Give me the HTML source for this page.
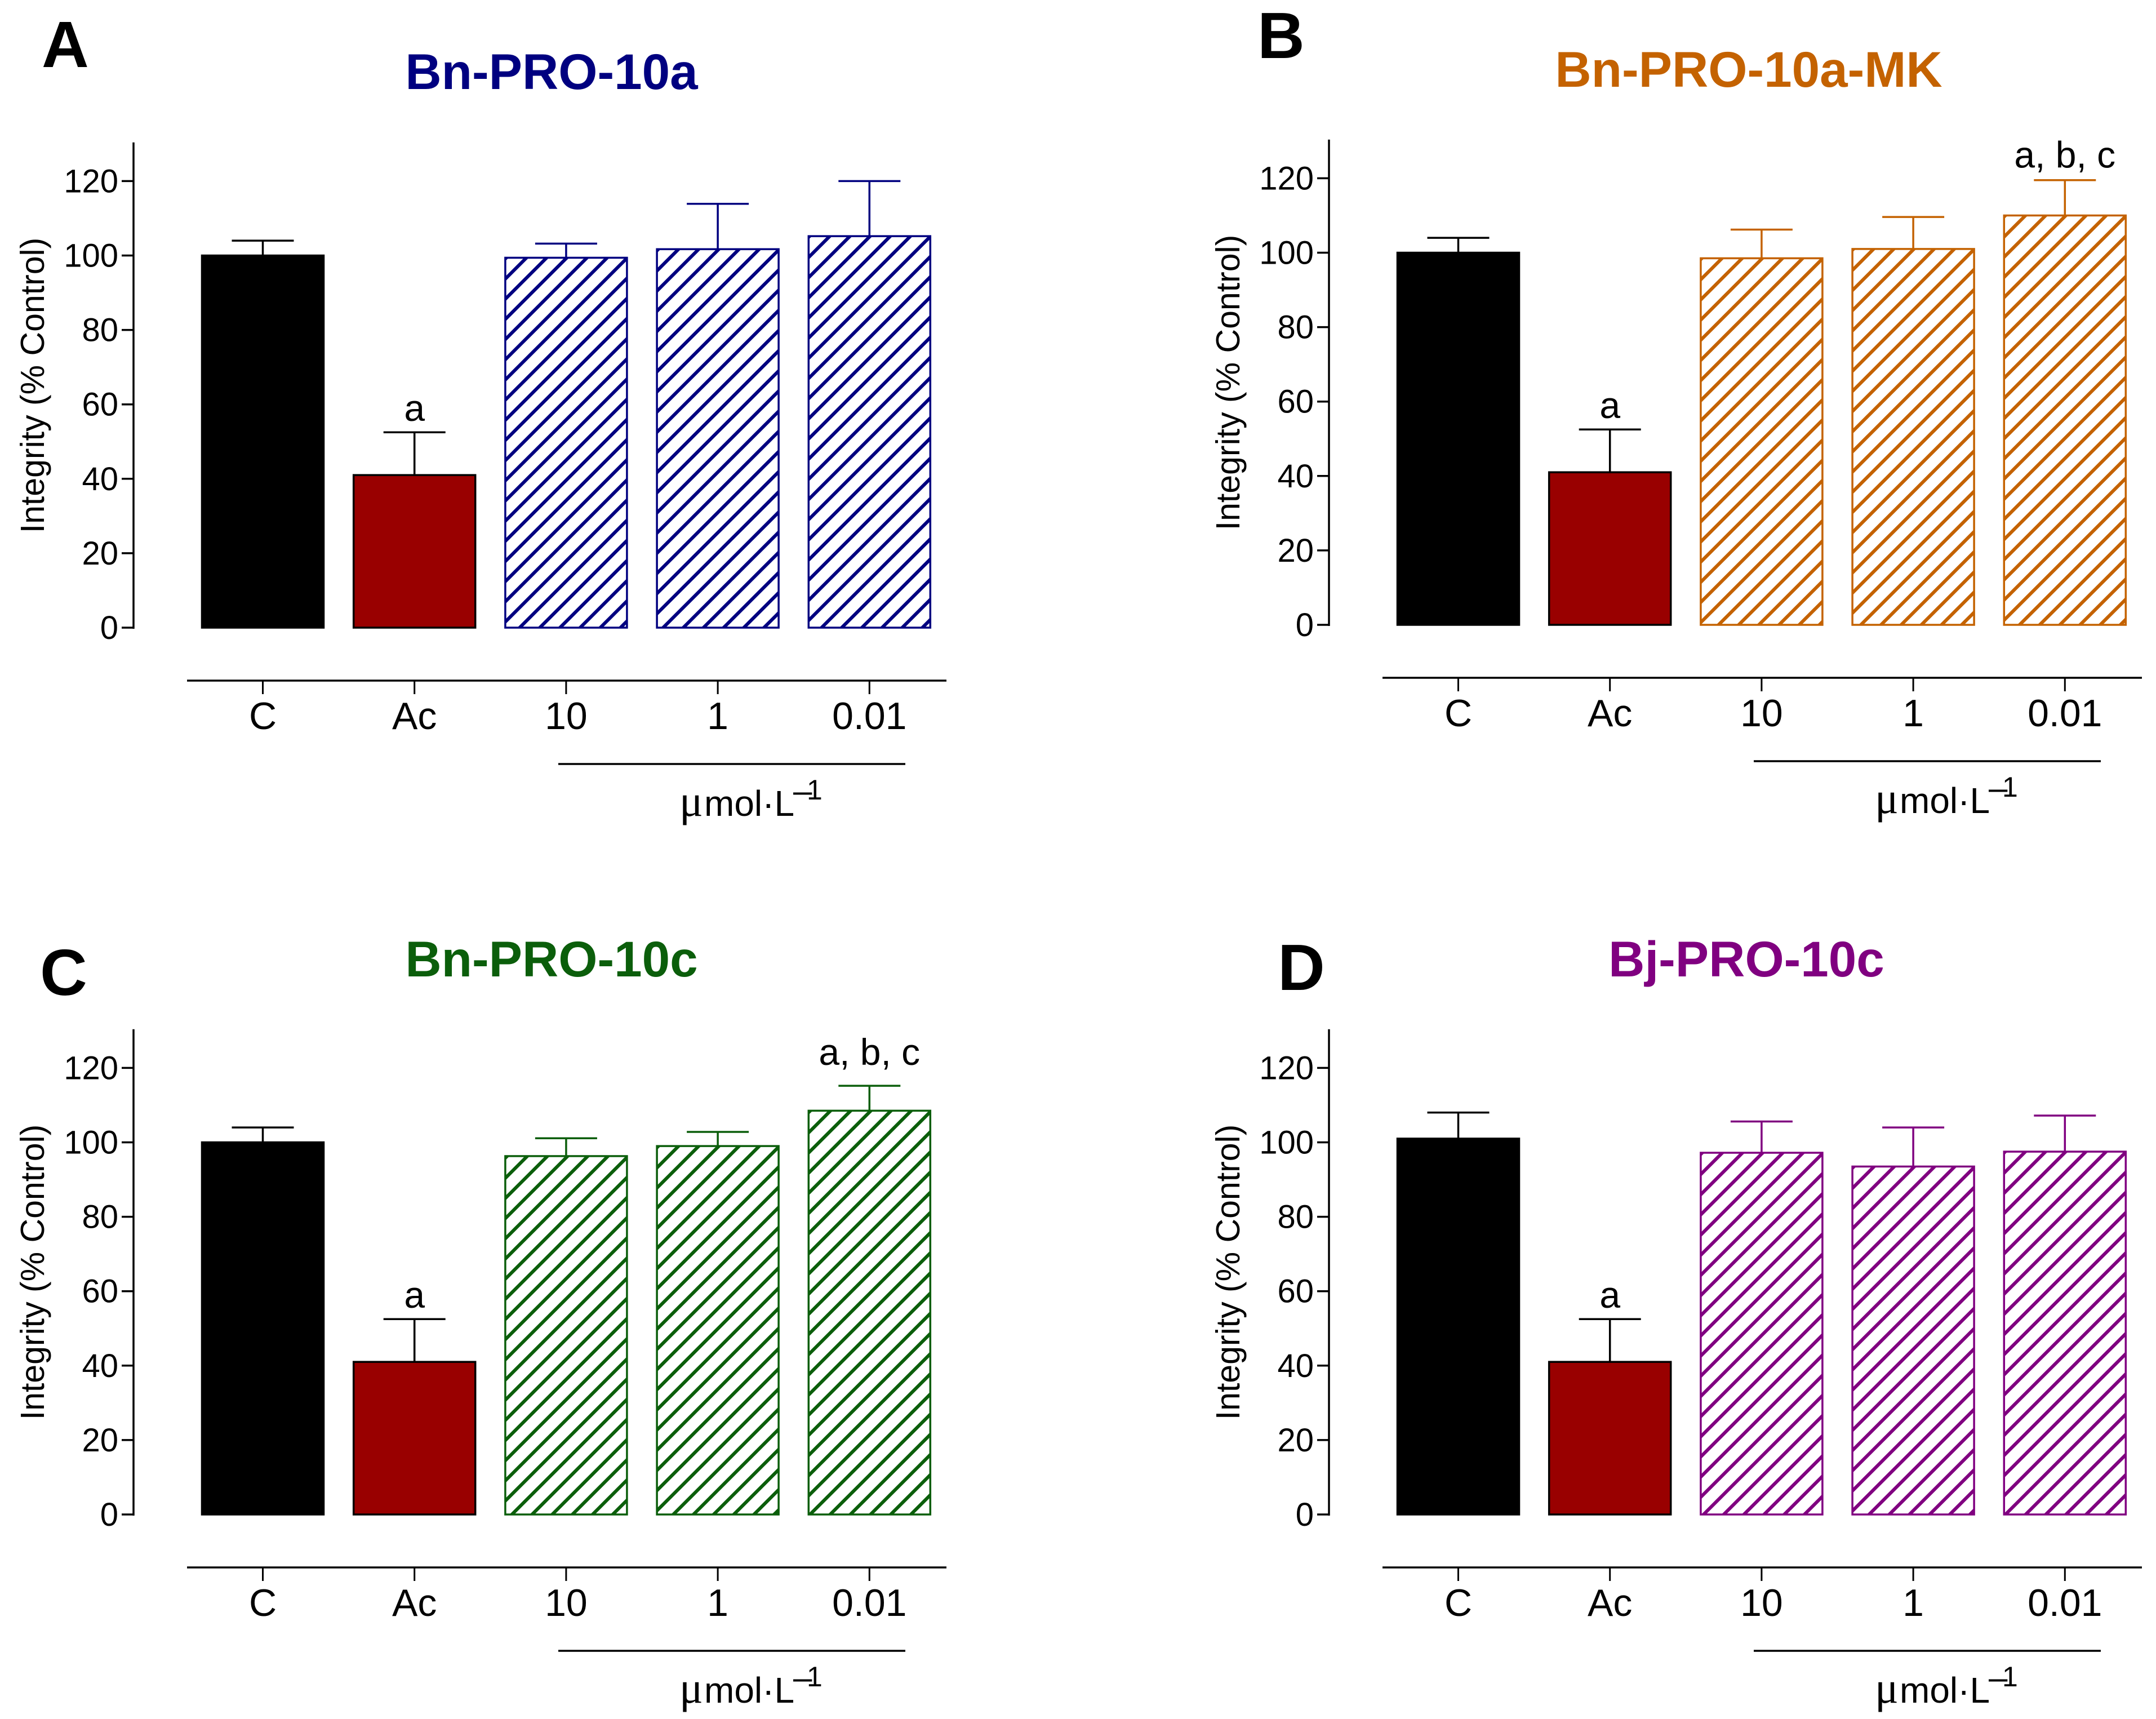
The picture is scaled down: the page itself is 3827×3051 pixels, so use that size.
<!DOCTYPE html>
<html lang="en">
<head>
<meta charset="utf-8">
<title>Integrity bar charts</title>
<style>
html,body{margin:0;padding:0;background:#fff;}
svg{display:block;font-family:"Liberation Sans",sans-serif;}
</style>
</head>
<body>
<svg id="figure" xmlns="http://www.w3.org/2000/svg" width="3827" height="3051" viewBox="0 0 3827 3051">
<rect width="3827" height="3051" fill="#ffffff"/>
<defs id="defs"></defs>
<text x="74" y="119" font-size="116" font-weight="700">A</text>
<text x="2232" y="103" font-size="116" font-weight="700">B</text>
<text x="71" y="1766" font-size="116" font-weight="700">C</text>
<text x="2268" y="1757" font-size="116" font-weight="700">D</text>
<text x="979" y="158" font-size="89" font-weight="700" text-anchor="middle" fill="#000080">Bn-PRO-10a</text>
<text x="3104" y="154" font-size="89" font-weight="700" text-anchor="middle" fill="#c46200">Bn-PRO-10a-MK</text>
<text x="979" y="1733" font-size="89" font-weight="700" text-anchor="middle" fill="#0b5e0b">Bn-PRO-10c</text>
<text x="3100" y="1733" font-size="89" font-weight="700" text-anchor="middle" fill="#800080">Bj-PRO-10c</text>
<g id="panel-a" transform="translate(0,0)"></g>
<g id="panel-b" transform="translate(2122,-5)"></g>
<g id="panel-c" transform="translate(0,1574)"></g>
<g id="panel-d" transform="translate(2122,1574)"></g>
</svg>
<script>
const categories = ['C', 'Ac', '10', '1', '0.01'];
const yTickLabels = [0, 20, 40, 60, 80, 100, 120];
const yAxisTitle = 'Integrity (% Control)';

const meansA = [100, 41, 99.4, 101.7, 105.2];
const errorsA = [4, 11.5, 3.8, 12.2, 14.8];
const notesA = ['', 'a', '', '', ''];

const meansB = [100, 41, 98.5, 101, 110];
const errorsB = [4, 11.5, 7.7, 8.6, 9.5];
const notesB = ['', 'a', '', '', 'a, b, c'];

const meansC = [100, 41, 96.3, 99, 108.5];
const errorsC = [4, 11.5, 4.8, 3.8, 6.7];
const notesC = ['', 'a', '', '', 'a, b, c'];

const meansD = [101, 41, 97.2, 93.5, 97.5];
const errorsD = [7, 11.5, 8.4, 10.5, 9.7];
const notesD = ['', 'a', '', '', ''];

const NS = 'http://www.w3.org/2000/svg';
const defs = document.getElementById('defs');
const yScale = v => 1114 - v * 6.605;
const xCenter = i => 466.5 + i * 269.2;
const BAR_HALF = 108;
const CAP_HALF = 55;
const HATCH_PERIOD = 35.8;
const AXIS_TOP = 130.4;
const solidFills = ['#000000', '#990000'];

function mk(parent, tag, attrs, text) {
  const el = document.createElementNS(NS, tag);
  for (const k in attrs) el.setAttribute(k, attrs[k]);
  if (text !== undefined) el.textContent = text;
  parent.appendChild(el);
  return el;
}

function drawHatch(g, clipId, left, right, top, bottom, color, offset) {
  const clip = mk(defs, 'clipPath', {id: clipId});
  mk(clip, 'rect', {x: left, y: top, width: right - left, height: bottom - top});
  const hatch = mk(g, 'g', {'clip-path': 'url(#' + clipId + ')', stroke: color, 'stroke-width': 6});
  
  
  const rise = bottom - top + 10;
  let s = left + offset;
  while (s - HATCH_PERIOD > left - rise) s -= HATCH_PERIOD;
  for (; s < right + 10; s += HATCH_PERIOD) {
    mk(hatch, 'line', {x1: s - 5, y1: bottom + 5, x2: s + rise, y2: bottom - rise});
  }
}

function drawPanel(id, color, means, errors, notes, hatchOffsets, noteGaps) {
  const g = document.getElementById('panel-' + id);

  const yAxis = mk(g, 'line', {x1: 237, x2: 237, y1: yScale(AXIS_TOP), y2: yScale(0) + 2, stroke: '#000', 'stroke-width': 3.5});
  
  

  yTickLabels.forEach(t => {
    const tick = mk(g, 'line', {x1: 216, x2: 237, y1: yScale(t), y2: yScale(t), stroke: '#000', 'stroke-width': 3.5});
    
    
    const lab = mk(g, 'text', {x: 210, y: yScale(t) + 20, 'font-size': 58, 'text-anchor': 'end'}, String(t));
    
    
  });

  const yTitle = mk(g, 'text', {transform: 'translate(78,684) rotate(-90)', 'font-size': 59, 'text-anchor': 'middle'}, yAxisTitle);
  
  

  const xAxis = mk(g, 'line', {x1: 332, x2: 1680, y1: 1208, y2: 1208, stroke: '#000', 'stroke-width': 3.5});
  
  

  categories.forEach((c, i) => {
    const x = xCenter(i);
    const tick = mk(g, 'line', {x1: x, x2: x, y1: 1208, y2: 1232, stroke: '#000', 'stroke-width': 3});
    
    
    const lab = mk(g, 'text', {x: x, y: 1294, 'font-size': 68, 'text-anchor': 'middle'}, c);
    
    

    const isSolid = i < solidFills.length;
    const markColor = isSolid ? '#000000' : color;
    const capY = yScale(means[i] + errors[i]);
    const topY = yScale(means[i]);
    const baseY = yScale(0);

    const stem = mk(g, 'line', {x1: x, x2: x, y1: capY, y2: topY, stroke: markColor, 'stroke-width': 3.5});
    
    
    const cap = mk(g, 'line', {x1: x - CAP_HALF, x2: x + CAP_HALF, y1: capY, y2: capY, stroke: markColor, 'stroke-width': 3.5});
    
    

    if (!isSolid) {
      drawHatch(g, 'hatch-clip-' + id + '-' + i, x - BAR_HALF, x + BAR_HALF, topY, baseY, color, hatchOffsets[i - solidFills.length]);
    }
    const bar = mk(g, 'rect', {
      x: x - BAR_HALF,
      y: topY,
      width: BAR_HALF * 2,
      height: baseY - topY,
      fill: isSolid ? solidFills[i] : 'none',
      stroke: markColor,
      'stroke-width': 3.5
    });
    
    

    if (notes[i]) {
      const note = mk(g, 'text', {x: x, y: capY - noteGaps[i], 'font-size': 66, 'text-anchor': 'middle'}, notes[i]);
      
      
    }
  });

  const bracket = mk(g, 'line', {x1: 991, x2: 1607, y1: 1356, y2: 1356, stroke: '#000', 'stroke-width': 3.5});
  
  

  const unit = mk(g, 'text', {y: 1448, 'font-size': 64});
  
  
  const mu = mk(unit, 'tspan', {x: 1206, 'font-size': 78, 'font-family': '"Liberation Serif",serif'}, 'μ');
  
  
  const mol = mk(unit, 'tspan', {x: 1250}, 'mol·L');
  
  
  const minus = mk(unit, 'tspan', {x: 1408, y: 1424, 'font-size': 60}, '–');
  
  
  const one = mk(unit, 'tspan', {x: 1432, y: 1419, 'font-size': 50}, '1');
  
  
}

drawPanel('a', '#000080', meansA, errorsA, notesA, [25.5, 11, 23], [0, 20, 0, 0, 22]);
drawPanel('b', '#c46200', meansB, errorsB, notesB, [31.6, 15, 27.5], [0, 20, 0, 0, 22]);
drawPanel('c', '#0b5e0b', meansC, errorsC, notesC, [11.7, 29, 2.5], [0, 20, 0, 0, 37]);
drawPanel('d', '#800080', meansD, errorsD, notesD, [5, 29.6, 2.5], [0, 20, 0, 0, 22]);
</script>
</body>
</html>
